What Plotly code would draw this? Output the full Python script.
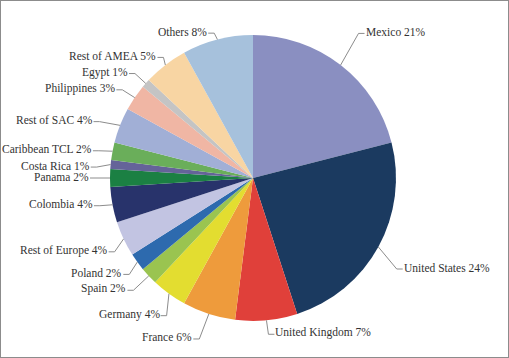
import math
import plotly.graph_objects as go

categories = ["Mexico", "United States", "United Kingdom", "France", "Germany", "Spain",
              "Poland", "Rest of Europe", "Colombia", "Panama", "Costa Rica",
              "Caribbean TCL", "Rest of SAC", "Philippines", "Egypt", "Rest of AMEA", "Others"]
values = [21, 24, 7, 6, 4, 2, 2, 4, 4, 2, 1, 2, 4, 3, 1, 5, 8]
colors = ["#8a8fc1", "#1b3a60", "#e0403a", "#ee9b3c", "#e3dd30", "#9ac450",
          "#2d6aae", "#c2c4e2", "#28336b", "#1b8043", "#656399",
          "#6aae5a", "#a1afd6", "#f0b6a4", "#c4c4c4", "#f8d5a3", "#a6c1dc"]

# label-placement nudges (pixels) applied to the leader-line elbow, layout only
label_nudge = {
    "Mexico": (5, -15), "United States": (0, 12), "United Kingdom": (0, -7),
    "France": (-3, 5), "Germany": (10, 5), "Spain": (0, 0), "Poland": (9, 0),
    "Rest of Europe": (10, 4), "Colombia": (8, -3), "Panama": (7, 0),
    "Costa Rica": (7, 4.5), "Caribbean TCL": (7, 3.5), "Rest of SAC": (-1, 4),
    "Philippines": (5, 4), "Egypt": (5, 4), "Rest of AMEA": (11, 9), "Others": (2, 14),
}

W, H = 509, 358
CX, CY, R = 253, 178, 143
EXT = 21
GAP = 6
FONT = dict(family="Liberation Serif, Times New Roman, serif", size=11.5, color="#333333")
LINE = dict(color="#8c8c8c", width=1)

fig = go.Figure(go.Pie(
    labels=categories, values=values, sort=False, direction="clockwise", rotation=0,
    marker=dict(colors=colors, line=dict(width=0)), textinfo="none", hoverinfo="label+percent",
    domain=dict(x=[(CX - R) / W, (CX + R) / W], y=[1 - (CY + R) / H, 1 - (CY - R) / H]),
    showlegend=False,
))


def px(x):
    return x / W


def py(y):
    return 1 - y / H


total = sum(values)
cum = 0
for name, v in zip(categories, values):
    th = 2 * math.pi * (cum + v / 2) / total
    cum += v
    s, c = math.sin(th), math.cos(th)
    side = 1 if s >= 0 else -1
    ax, ay = CX + R * s, CY - R * c
    nx, ny = label_nudge.get(name, (0, 0))
    ex, ey = CX + (R + EXT) * s + nx, CY - (R + EXT) * c + ny
    tx = ex + side * GAP
    path = f"M {px(ax)},{py(ay)} L {px(ex)},{py(ey)} L {px(tx)},{py(ey)}"
    fig.add_shape(type="path", path=path, xref="paper", yref="paper", line=LINE)
    fig.add_annotation(
        x=px(tx), y=py(ey), xref="paper", yref="paper",
        text=f"{name} {round(100 * v / total)}%", showarrow=False,
        xanchor="left" if side > 0 else "right", yanchor="middle", font=FONT,
        borderpad=0, yshift=1.5,
    )

fig.add_shape(type="rect", xref="paper", yref="paper", x0=0, y0=0, x1=1, y1=1,
              line=dict(color="#8c8c8c", width=2))

fig.update_layout(width=W, height=H, margin=dict(l=0, r=0, t=0, b=0),
                  paper_bgcolor="white", plot_bgcolor="white",
                  font=dict(family="Liberation Serif, Times New Roman, serif"))
fig.write_html("out.html", config={"displayModeBar": False},
               post_script="document.body.style.margin='0';document.body.style.overflow='hidden';")
